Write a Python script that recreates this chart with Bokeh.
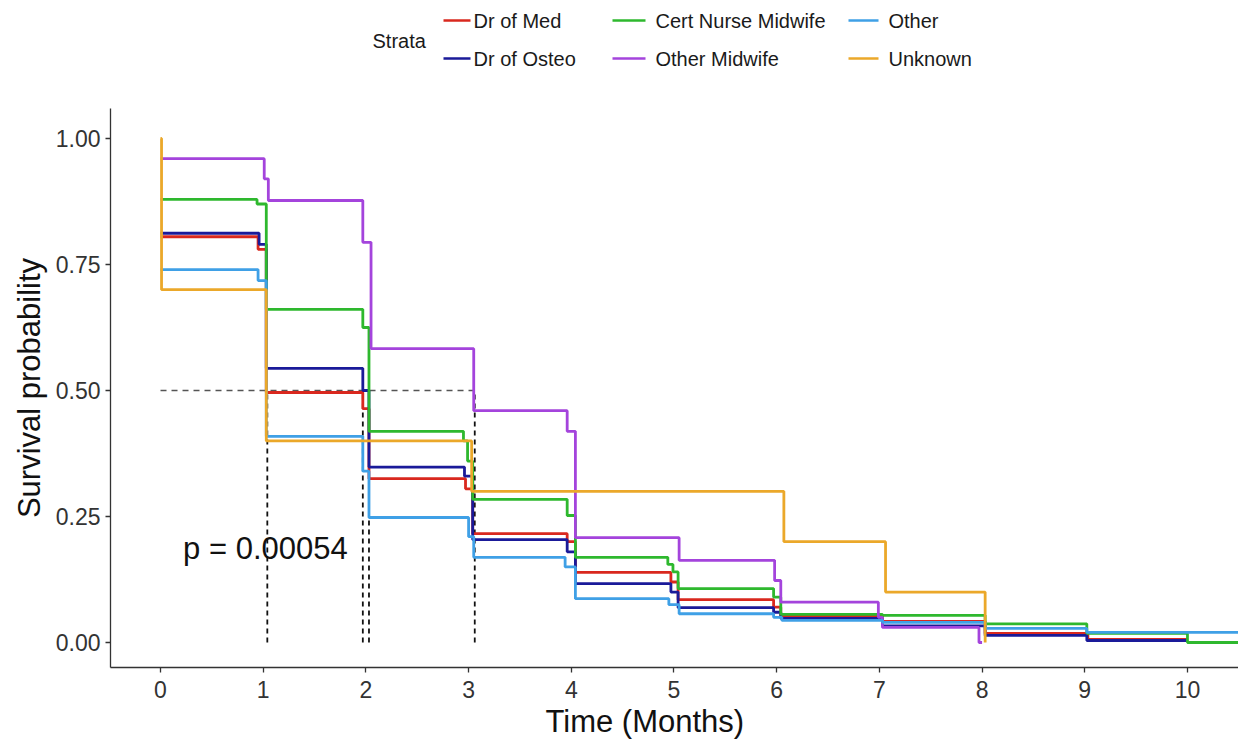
from bokeh.plotting import figure
from bokeh.layouts import column
from bokeh.models import Range1d, FixedTicker, Title
from bokeh.core.properties import value
from bokeh.embed import file_html
from bokeh.resources import INLINE

FONT = "Liberation Sans"

# ---------------- data ----------------
strata = ["Dr of Med", "Dr of Osteo", "Cert Nurse Midwife", "Other Midwife", "Other", "Unknown"]
colors = ["#D9281E", "#1A1A99", "#2EB82E", "#A444DC", "#3FA0E6", "#EBA82A"]

dr_med_t = [0, 0.95, 1.03, 1.97, 2.03, 2.97, 3.04, 3.96, 4.04, 4.97, 5.04, 5.97, 6.04, 7.03, 8.03, 9.03, 10.0]
dr_med_s = [0.805, 0.78, 0.496, 0.464, 0.325, 0.305, 0.216, 0.200, 0.139, 0.120, 0.085, 0.070, 0.053, 0.042, 0.018, 0.006, 0.006]

dr_osteo_t = [0, 0.96, 1.03, 1.97, 2.03, 2.96, 3.04, 3.96, 4.04, 4.97, 5.04, 5.97, 6.04, 7.03, 8.03, 9.02, 10.0]
dr_osteo_s = [0.812, 0.79, 0.544, 0.50, 0.348, 0.33, 0.204, 0.18, 0.117, 0.10, 0.069, 0.06, 0.048, 0.033, 0.014, 0.004, 0.004]

cnm_t = [0, 0.94, 1.03, 1.97, 2.03, 2.95, 2.99, 3.04, 3.96, 4.04, 4.94, 4.99, 5.04, 5.97, 6.04, 7.03, 8.03, 9.02, 10.0, 10.5]
cnm_s = [0.879, 0.87, 0.661, 0.625, 0.419, 0.40, 0.36, 0.284, 0.252, 0.169, 0.155, 0.14, 0.107, 0.09, 0.056, 0.054, 0.037, 0.018, 0.0, 0.0]

omw_t = [0, 1.01, 1.05, 1.97, 2.05, 3.05, 3.96, 4.04, 5.05, 5.98, 6.04, 6.99, 7.03, 7.97, 8.0]
omw_s = [0.96, 0.92, 0.877, 0.794, 0.583, 0.46, 0.419, 0.208, 0.163, 0.123, 0.080, 0.05, 0.030, 0.0, 0.0]

other_t = [0, 0.95, 1.03, 1.97, 2.03, 3.0, 3.05, 3.94, 4.04, 4.95, 5.05, 5.97, 6.05, 7.03, 8.03, 9.02, 10.5]
other_s = [0.74, 0.718, 0.409, 0.34, 0.248, 0.21, 0.169, 0.15, 0.087, 0.075, 0.057, 0.05, 0.044, 0.040, 0.028, 0.020, 0.020]

unknown_t = [0, 0.01, 1.03, 3.03, 6.07, 7.06, 8.03]
unknown_s = [1.0, 0.70, 0.40, 0.30, 0.20, 0.10, 0.0]

curves_t = [dr_med_t, dr_osteo_t, cnm_t, omw_t, other_t, unknown_t]
curves_s = [dr_med_s, dr_osteo_s, cnm_s, omw_s, other_s, unknown_s]

median_level = 0.5
median_times = [1.04, 1.97, 2.03, 3.06]

x_ticks = [0, 1, 2, 3, 4, 5, 6, 7, 8, 9, 10]
y_ticks = [0.0, 0.25, 0.5, 0.75, 1.0]
y_tick_labels = ["0.00", "0.25", "0.50", "0.75", "1.00"]

x_title = "Time (Months)"
y_title = "Survival probability"
p_text = "p = 0.00054"
p_pos = (0.22, 0.187)

# ---------------- layout constants ----------------
W = 1238
H = 746
LH = 80
FRAME_LEFT = 110

# ---------------- legend figure ----------------
leg = figure(width=W, height=LH, output_backend="svg", toolbar_location=None,
             x_range=Range1d(FRAME_LEFT, W), y_range=Range1d(LH, 0),
             min_border_left=FRAME_LEFT, min_border_right=0, min_border_top=0, min_border_bottom=0,
             outline_line_color=None)
leg.axis.visible = False
leg.grid.visible = False

col_x = [443, 612, 848]
line_len = [27, 33, 30]
text_x = [473, 655, 888]
row_y = [20, 58]
seg_x0, seg_x1, seg_y, seg_c, tx, ty, tt = [], [], [], [], [], [], []
for i, name in enumerate(strata):
    c, r = divmod(i, 2)
    seg_x0.append(col_x[c]); seg_x1.append(col_x[c] + line_len[c]); seg_y.append(row_y[r]); seg_c.append(colors[i])
    tx.append(text_x[c]); ty.append(row_y[r]); tt.append(name)
leg.segment(x0=seg_x0, y0=seg_y, x1=seg_x1, y1=seg_y, line_color=seg_c, line_width=2.5)
leg.text(x=tx, y=ty, text=tt, text_font=value(FONT), text_font_size="20px",
         text_baseline="middle", text_align="left", text_color="#1a1a1a")
leg.text(x=[372], y=[40], text=["Strata"], text_font=value(FONT), text_font_size="20px",
         text_baseline="middle", text_align="left", text_color="#1a1a1a")

# ---------------- main figure ----------------
p = figure(width=W, height=H - LH, output_backend="svg", toolbar_location=None,
           x_range=Range1d(-0.487, 10.497), y_range=Range1d(-0.0496, 1.0595),
           min_border_left=FRAME_LEFT, min_border_right=0, min_border_top=28, min_border_bottom=79,
           outline_line_color=None)
p.grid.visible = False

# median reference lines
p.segment(x0=[0], y0=[median_level], x1=[max(median_times)], y1=[median_level],
          line_color="#555555", line_width=1.6, line_dash="6 5")
p.segment(x0=median_times, y0=[0] * len(median_times), x1=median_times,
          y1=[median_level] * len(median_times),
          line_color="#111111", line_width=1.8, line_dash="5 4")

for t, s, c in zip(curves_t, curves_s, colors):
    p.step(x=t, y=s, mode="after", line_color=c, line_width=2.8)

p.text(x=[p_pos[0]], y=[p_pos[1]], text=[p_text], text_font=value(FONT), text_font_size="31px",
       text_baseline="middle", text_align="left", text_color="#111111")

p.xaxis.ticker = FixedTicker(ticks=x_ticks)
p.yaxis.ticker = FixedTicker(ticks=y_ticks)
p.yaxis.major_label_overrides = {v: l for v, l in zip(y_ticks, y_tick_labels)}
p.yaxis.axis_label = y_title
for ax in (p.xaxis, p.yaxis):
    ax.axis_line_color = "#333333"
    ax.axis_line_width = 1.3
    ax.major_tick_line_color = "#333333"
    ax.major_tick_line_width = 1.3
    ax.major_tick_out = 5
    ax.major_tick_in = 0
    ax.minor_tick_line_color = None
    ax.major_label_text_font = FONT
    ax.major_label_text_font_size = "23px"
    ax.major_label_text_color = "#333333"
    ax.axis_label_text_font = FONT
    ax.axis_label_text_font_size = "31px"
    ax.axis_label_text_font_style = "normal"
    ax.axis_label_text_color = "#111111"
p.xaxis.major_label_standoff = 8
p.yaxis.major_label_standoff = 5
p.yaxis.axis_label_standoff = 6

# x-axis title, placed like the reference (slightly left of the frame centre)
xt = Title(text=x_title, align="left", offset=545 - FRAME_LEFT, standoff=2,
           text_font=FONT, text_font_size="31px", text_font_style="normal",
           text_color="#111111")
p.add_layout(xt, "below")

layout = column(leg, p, spacing=0)
open("out.html", "w").write(file_html(layout, INLINE))
